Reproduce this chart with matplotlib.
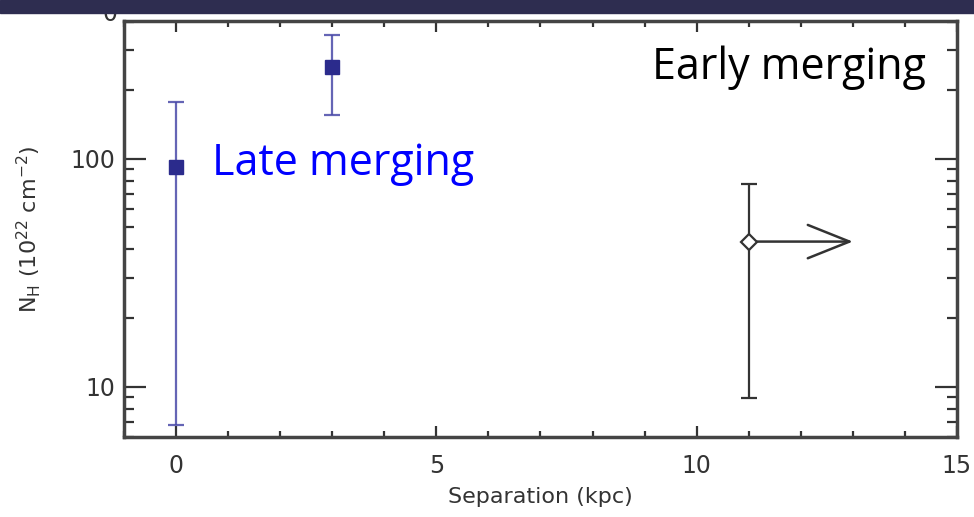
import matplotlib
matplotlib.use("Agg")
import matplotlib.pyplot as plt
from matplotlib.patches import Rectangle
from matplotlib.ticker import LogLocator, NullFormatter, FixedLocator

# data
sep_merge = [0, 3]
nh_merge = [92.5, 254]
nh_merge_lo = [6.8, 156]
nh_merge_hi = [178, 351]

sep_early = [11]
nh_early = [43.3]
nh_early_lo = [8.9]
nh_early_hi = [77.4]
sep_early_limit = 13.0

xticks = [0, 5, 10, 15]
yticks = [10, 100]

fig = plt.figure(figsize=(9.74, 5.17), dpi=100)
ax = fig.add_axes([0.1273, 0.1547, 0.8552, 0.8047])
ax.set_yscale("log")
ax.set_xlim(-1, 15)
ax.set_ylim(6.0, 403)

err_m = [[n - lo for n, lo in zip(nh_merge, nh_merge_lo)],
         [hi - n for n, hi in zip(nh_merge, nh_merge_hi)]]
ax.errorbar(sep_merge, nh_merge, yerr=err_m, fmt="none", ecolor="#4a4aa8",
            elinewidth=1.6, capsize=6, capthick=1.6, alpha=0.85, zorder=3)
ax.plot(sep_merge, nh_merge, "s", color="#2b2b8c", ms=10.5, zorder=4)

err_e = [[n - lo for n, lo in zip(nh_early, nh_early_lo)],
         [hi - n for n, hi in zip(nh_early, nh_early_hi)]]
ax.errorbar(sep_early, nh_early, yerr=err_e, fmt="none", ecolor="#333333",
            elinewidth=1.6, capsize=6, capthick=1.6, zorder=3)
ax.plot(sep_early, nh_early, "D", mfc="white", mec="#333333", mew=1.6,
        ms=8, zorder=4)
ax.annotate("", xy=(sep_early_limit, nh_early[0]),
            xytext=(sep_early[0], nh_early[0]),
            arrowprops=dict(arrowstyle="->,head_length=3.0,head_width=1.2",
                            color="#333333", lw=1.8, shrinkA=0, shrinkB=0),
            zorder=3)

ax.text(0.7, 95, "Late merging", color="#0000ff", fontsize=31,
        family="Open Sans", va="center", ha="left")
ax.text(14.4, 250, "Early merging", color="black", fontsize=31,
        family="Open Sans", va="center", ha="right")

ax.xaxis.set_major_locator(FixedLocator(xticks))
ax.xaxis.set_minor_locator(FixedLocator([i for i in range(-1, 16)]))
ax.yaxis.set_major_locator(FixedLocator(yticks))
ax.yaxis.set_minor_locator(LogLocator(base=10, subs=range(2, 10)))
ax.yaxis.set_minor_formatter(NullFormatter())
ax.set_xticklabels([str(t) for t in xticks])
ax.set_yticklabels([str(t) for t in yticks])

ax.tick_params(which="both", direction="in", top=True, right=True,
               colors="#333333", labelcolor="#333333", labelsize=17, width=1.6)
ax.tick_params(axis="x", which="major", length=8, pad=12)
ax.tick_params(axis="x", which="minor", length=4)
ax.tick_params(axis="y", which="major", length=16, pad=6)
ax.tick_params(axis="y", which="minor", length=7)
for s in ax.spines.values():
    s.set_linewidth(2.5)
    s.set_color("#444444")

ax.set_xlabel("Separation (kpc)", fontsize=16, color="#333333", labelpad=7)
ax.set_ylabel(r"N$_{\rm H}$ (10$^{22}$ cm$^{-2}$)", fontsize=16,
              color="#333333", labelpad=20)

# cut-off label and banner at top
fig.text(0.113, 0.972, "0", fontsize=17, color="#333333", ha="center", va="center")
fig.patches.append(Rectangle((0, 0.9755), 1, 0.0245, transform=fig.transFigure,
                             color="#2e2d50", zorder=10))

fig.savefig("out.png", dpi=100)
